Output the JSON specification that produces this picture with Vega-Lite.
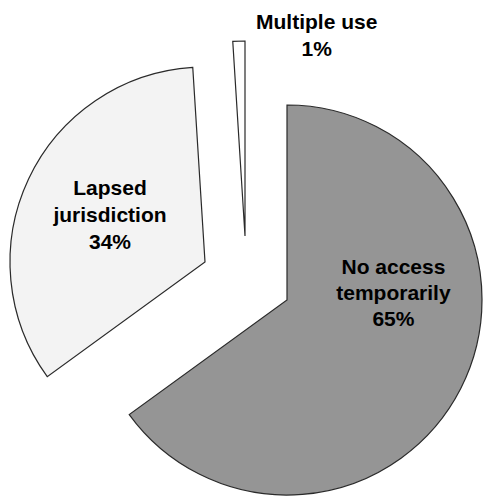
{
  "$schema": "https://vega.github.io/schema/vega-lite/v6.json",
  "autosize": "none",
  "width": 472,
  "height": 434,
  "padding": {"left": 11, "top": 63, "right": 0, "bottom": 0},
  "background": "white",
  "config": {"view": {"stroke": null}},
  "data": {
    "values": [
      {"category": "No access temporarily", "label": ["No access", "temporarily", "65%"], "value": 65, "ord": 1},
      {"category": "Lapsed jurisdiction", "label": ["Lapsed", "jurisdiction", "34%"], "value": 34, "ord": 2},
      {"category": "Multiple use", "label": ["Multiple use", "1%"], "value": 1, "ord": 3}
    ]
  },
  "transform": [
    {"stack": "value", "groupby": [], "sort": [{"field": "ord", "order": "ascending"}], "as": ["v0", "v1"]},
    {"calculate": "(datum.v0 + datum.v1) / 2", "as": "mid"}
  ],
  "layer": [
    {
      "transform": [{"filter": "datum.ord == 1"}],
      "layer": [
        {
          "mark": {"type": "arc", "radius": 195, "fill": "#959595", "stroke": "#2a2a2a", "strokeWidth": 1.2, "xOffset": 40, "yOffset": 20},
          "encoding": {
            "theta": {"field": "v0", "type": "quantitative", "scale": {"domain": [0, 100]}},
            "theta2": {"field": "v1"}
          }
        },
        {
          "mark": {"type": "text", "radius": 106, "xOffset": 40, "yOffset": 20, "dx": 12, "dy": -80, "font": "Liberation Sans", "fontWeight": "bold", "fontSize": 21, "lineHeight": 26, "align": "center", "baseline": "middle", "color": "black"},
          "encoding": {
            "theta": {"field": "mid", "type": "quantitative", "scale": {"domain": [0, 100]}},
            "text": {"field": "label"}
          }
        }
      ]
    },
    {
      "transform": [{"filter": "datum.ord == 2"}],
      "layer": [
        {
          "mark": {"type": "arc", "radius": 195, "fill": "#f3f3f3", "stroke": "#2a2a2a", "strokeWidth": 1.2, "xOffset": -42, "yOffset": -18},
          "encoding": {
            "theta": {"field": "v0", "type": "quantitative", "scale": {"domain": [0, 100]}},
            "theta2": {"field": "v1"}
          }
        },
        {
          "mark": {"type": "text", "radius": 105, "xOffset": -42, "yOffset": -18, "dx": 0, "dy": -28, "font": "Liberation Sans", "fontWeight": "bold", "fontSize": 21, "lineHeight": 27, "align": "center", "baseline": "middle", "color": "black"},
          "encoding": {
            "theta": {"field": "mid", "type": "quantitative", "scale": {"domain": [0, 100]}},
            "text": {"field": "label"}
          }
        }
      ]
    },
    {
      "transform": [{"filter": "datum.ord == 3"}],
      "layer": [
        {
          "mark": {"type": "arc", "radius": 195, "fill": "white", "stroke": "#2a2a2a", "strokeWidth": 1.2, "xOffset": -2, "yOffset": -44},
          "encoding": {
            "theta": {"field": "v0", "type": "quantitative", "scale": {"domain": [0, 100]}},
            "theta2": {"field": "v1"}
          }
        },
        {
          "mark": {"type": "text", "radius": 200, "xOffset": -2, "yOffset": -44, "dx": 78, "dy": -13, "font": "Liberation Sans", "fontWeight": "bold", "fontSize": 21, "lineHeight": 27, "align": "center", "baseline": "middle", "color": "black"},
          "encoding": {
            "theta": {"field": "mid", "type": "quantitative", "scale": {"domain": [0, 100]}},
            "text": {"field": "label"}
          }
        }
      ]
    }
  ]
}
